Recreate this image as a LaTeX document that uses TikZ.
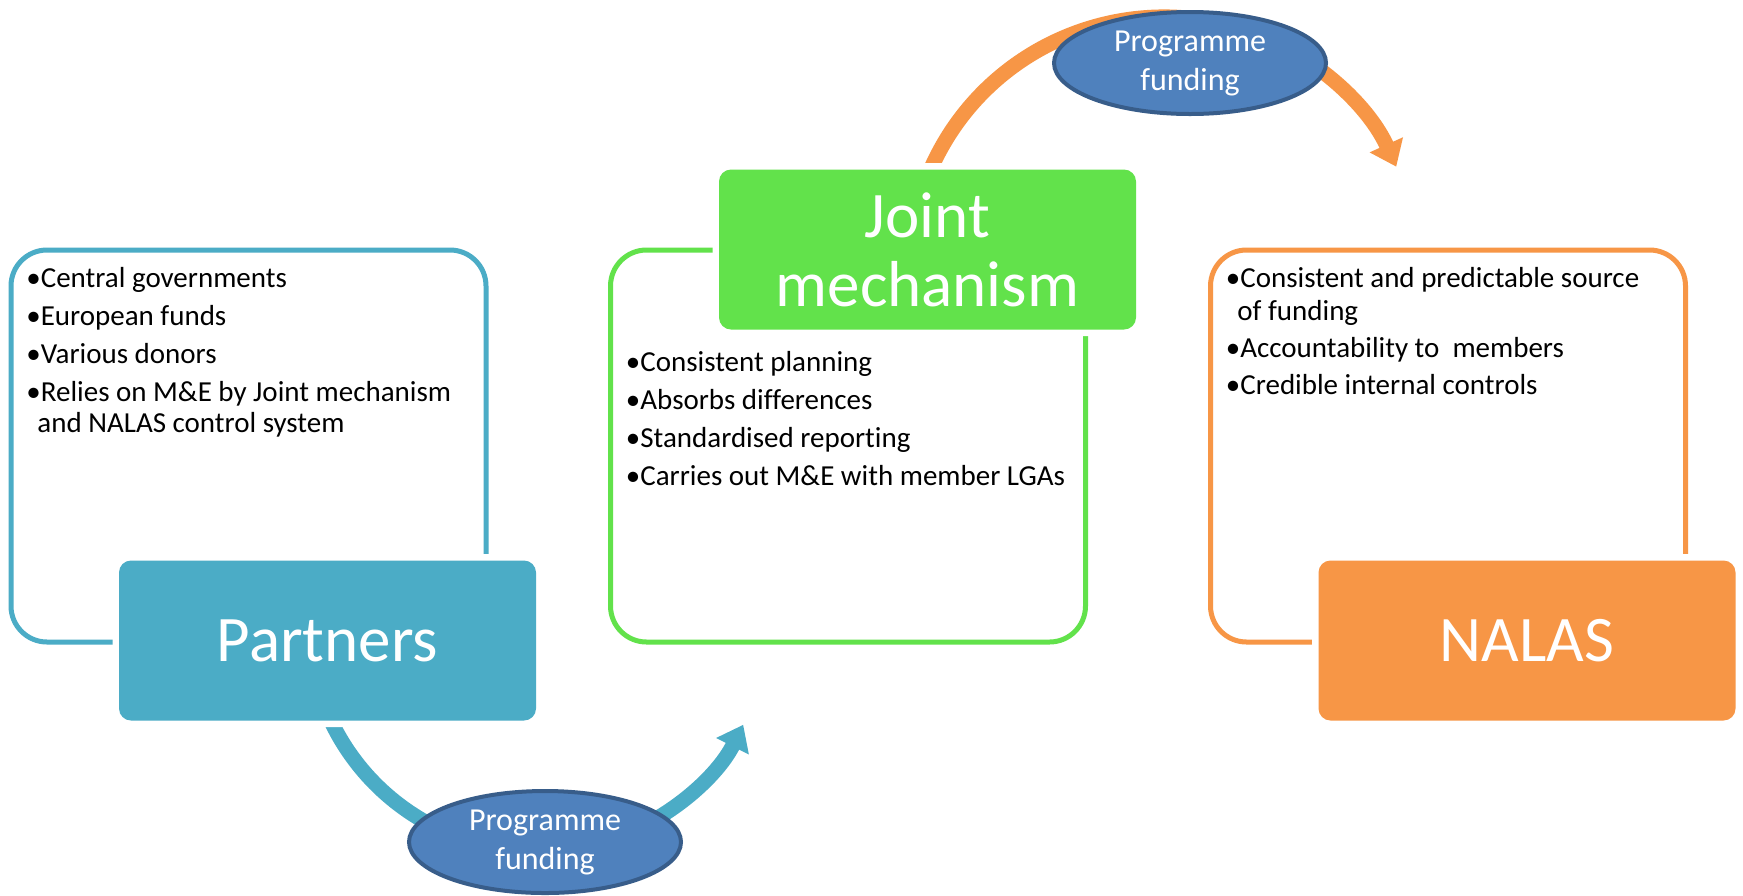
\documentclass[tikz,border=0pt]{standalone}
\usepackage{fontspec}
\setmainfont{Carlito}[Ligatures=NoCommon]
\usetikzlibrary{arrows.meta,shapes.geometric}
\definecolor{pblue}{HTML}{4BACC6}
\definecolor{jgreen}{HTML}{62E24B}
\definecolor{norange}{HTML}{F79646}
\definecolor{efill}{HTML}{4F81BD}
\definecolor{edraw}{HTML}{385D8A}
\begin{document}
\begin{tikzpicture}[x=0.5pt,y=-0.5pt,
  outline/.style={draw=#1, line width=2.5pt, rounded corners=18pt, minimum width=237.5pt, minimum height=196pt, inner sep=0pt},
  headbox/.style={fill=#1, rounded corners=6pt, minimum width=208.5pt, minimum height=80pt, inner sep=0pt, text=white, font=\fontsize{32.5}{34.5}\selectfont, align=center, preaction={draw=white, line width=6.5pt}},
  item/.style={anchor=base west, inner sep=0pt, font=\fontsize{14.5}{17}\selectfont},
  flow/.style={draw=#1, line width=7.5pt, -{Triangle[width=17.5pt,length=12pt]}},
  fund/.style={ellipse, fill=efill, draw=edraw, line width=2pt, minimum width=136pt, minimum height=51pt, inner sep=0pt, text=white, align=center, font=\fontsize{16}{19.5}\selectfont}]
\fill[white] (0,0) rectangle (1743,895);
\useasboundingbox (0,0) rectangle (1743,895);

% outline boxes
\node[outline=pblue] (pout) at (248.5,446) {};
\node[outline=jgreen] (jout) at (848,446) {};
\node[outline=norange] (nout) at (1448,446) {};

% flow arcs
\coordinate (c1) at (538,622);
\coordinate (c2) at (1164,272);
\coordinate (a1s) at ([shift={(157:229.5)}]c1);
\coordinate (a2s) at ([shift={(203:255)}]c2);
\draw[flow=pblue] (a1s) arc[start angle=157, end angle=26.6, radius=229.5];
\draw[flow=norange] (a2s) arc[start angle=203, end angle=335.6, radius=255];

% head boxes
\node[headbox=pblue] (partners) at (327.5,640.5) {Partners};
\node[headbox=jgreen] (joint) at (927.5,249.5) {Joint\\mechanism};
\node[headbox=norange] (nalas) at (1527,640.5) {NALAS};

% funding ellipses
\node[fund] (f1) at (545,842) {Programme\\funding};
\node[fund] (f2) at (1190,63) {Programme\\funding};

% Partners items
\node[item] (p1) at (26,287) {•Central governments};
\node[item] (p2) at (26,325) {•European funds};
\node[item] (p3) at (26,363) {•Various donors};
\node[item] (p4) at (26,401) {•Relies on M\&E by Joint mechanism};
\node[item] (p5) at (37,432) {and NALAS control system};

% Joint items
\node[item] (j1) at (625.5,371) {•Consistent planning};
\node[item] (j2) at (625.5,409) {•Absorbs differences};
\node[item] (j3) at (625.5,447) {•Standardised reporting};
\node[item] (j4) at (625.5,485) {•Carries out M\&E with member LGAs};

% NALAS items
\node[item] (n1) at (1225.5,287) {•Consistent and predictable source};
\node[item] (n2) at (1237,320) {of funding};
\node[item] (n3) at (1225.5,357) {•Accountability to\ \ members};
\node[item] (n4) at (1225.5,394) {•Credible internal controls};
\end{tikzpicture}
\end{document}
